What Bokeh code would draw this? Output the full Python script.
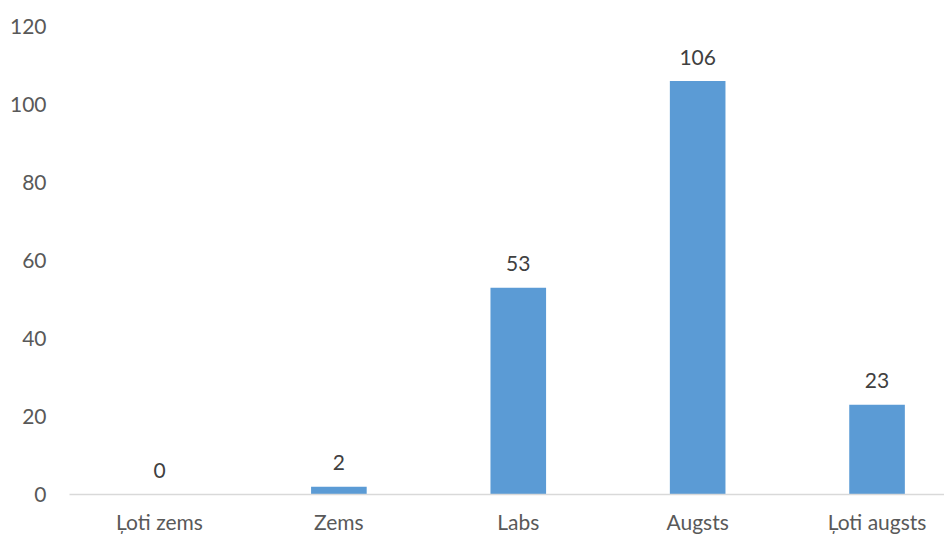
from bokeh.plotting import figure
from bokeh.models import Range1d, FixedTicker, ColumnDataSource
from bokeh.core.properties import value
from bokeh.embed import file_html
from bokeh.resources import INLINE

categories = ["Ļoti zems", "Zems", "Labs", "Augsts", "Ļoti augsts"]
counts = [0, 2, 53, 106, 23]
y_ticks = [0, 20, 40, 60, 80, 100, 120]

xs = list(range(len(categories)))
src = ColumnDataSource(dict(x=xs, y=counts, lab=[str(v) for v in counts]))

FONT = "Lato"

p = figure(width=944, height=536, output_backend="svg", toolbar_location=None,
           x_range=Range1d(-0.5017, 4.376), y_range=Range1d(0, 120),
           min_border_left=69, min_border_right=0, min_border_top=26, min_border_bottom=34)
p.outline_line_color = None
p.xgrid.visible = False
p.ygrid.visible = False

p.vbar(x="x", top="y", width=0.31, bottom=0, source=src, color="#5B9BD5", line_color=None)
p.text(x="x", y="y", text="lab", source=src, text_align="center", text_baseline="alphabetic",
       y_offset=-24, text_font=value(FONT), text_font_size="21px", text_color="#404040")

xa = p.xaxis[0]
xa.ticker = FixedTicker(ticks=xs)
xa.major_label_overrides = {i: c for i, c in enumerate(categories)}
xa.major_tick_line_color = None
xa.minor_tick_line_color = None
xa.axis_line_color = "#D9D9D9"
xa.axis_line_width = 1.5
xa.major_label_text_font = FONT
xa.major_label_text_font_size = "21px"
xa.major_label_text_color = "#595959"
xa.major_label_standoff = 8

ya = p.yaxis[0]
ya.ticker = FixedTicker(ticks=y_ticks)
ya.axis_line_color = None
ya.major_tick_line_color = None
ya.minor_tick_line_color = None
ya.major_label_text_font = FONT
ya.major_label_text_font_size = "21px"
ya.major_label_text_color = "#595959"
ya.major_label_standoff = 17

open("out.html", "w").write(file_html(p, INLINE))
